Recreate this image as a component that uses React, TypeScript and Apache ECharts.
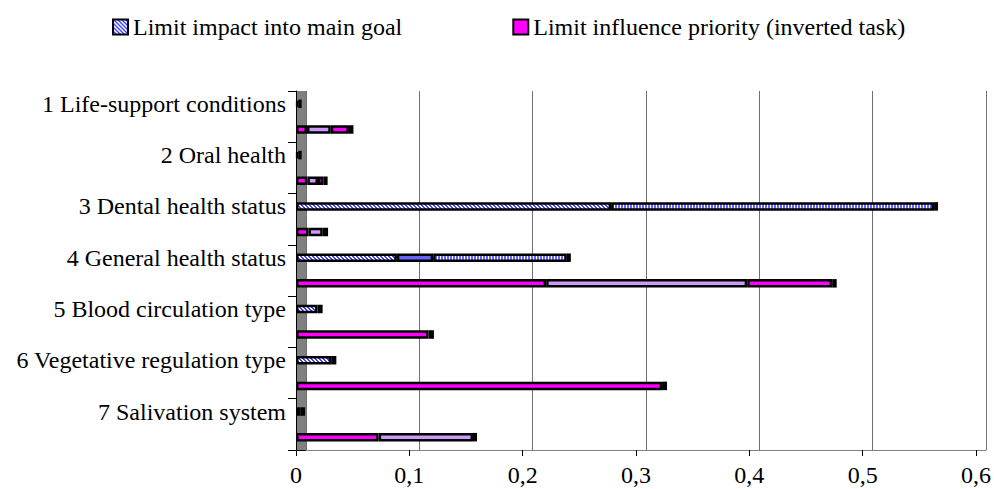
import React, { useEffect, useRef } from "react";
import * as echarts from "echarts";

// ---- data ----
const categories = [
  "1 Life-support conditions",
  "2 Oral health",
  "3 Dental health status",
  "4 General health status",
  "5 Blood circulation type",
  "6 Vegetative regulation type",
  "7 Salivation system",
];
const legendNames = ["Limit impact into main goal", "Limit influence priority (inverted task)"];
const xTickLabels = ["0", "0,1", "0,2", "0,3", "0,4", "0,5", "0,6"];

// upper bar of each pair: "Limit impact into main goal" (segments)
const impactHatched = [0.002, 0.002, 0.278, 0.089, 0.019, 0.031, 0.004];
const impactSolid = [0, 0, 0, 0.032, 0, 0, 0];
const impactStriped = [0, 0, 0.285, 0.118, 0, 0, 0];
const impactEnd = [0.003, 0.003, 0.0035, 0.0035, 0.0045, 0.0046, 0.004];

// lower bar of each pair: "Limit influence priority (inverted task)" (segments)
const priorityMain = [0.0097, 0.01, 0.011, 0.2207, 0.117, 0.323, 0.0729];
const prioritySecond = [0.021, 0.0094, 0.0126, 0.1774, 0, 0, 0.0833];
const priorityThird = [0.016, 0.005, 0, 0.075, 0, 0, 0];
const priorityEnd = [0.004, 0.0035, 0.0047, 0.004, 0.0047, 0.0044, 0.0035];

// rows: each category followed by its priority row
const rows: string[] = [];
categories.forEach((c) => {
  rows.push(c);
  rows.push(c + " (priority)");
});

function toRows(values: number[], upper: boolean) {
  const out: (number | string)[] = [];
  values.forEach((v) => {
    const val = v > 0 ? v : "-";
    if (upper) {
      out.push(val);
      out.push("-");
    } else {
      out.push("-");
      out.push(val);
    }
  });
  return out;
}

function makePattern(w: number, h: number, paint: (x: number, y: number) => string) {
  const c = document.createElement("canvas");
  c.width = w;
  c.height = h;
  const ctx = c.getContext("2d")!;
  for (let y = 0; y < h; y++) {
    for (let x = 0; x < w; x++) {
      ctx.fillStyle = paint(x, y);
      ctx.fillRect(x, y, 1, 1);
    }
  }
  return { image: c.toDataURL(), repeat: "repeat", imageWidth: w, imageHeight: h };
}

const FONT = "'Liberation Serif', 'Times New Roman', serif";
const GRID_LEFT = 296;
const GRID_TOP = 91;
const GRID_W = 680;
const GRID_H = 359;
const DEPTH = 10;

export default function App() {
  const ref = useRef<HTMLDivElement>(null);
  useEffect(() => {
    const chart = echarts.init(ref.current!, null, { renderer: "svg" });

    const hatch = makePattern(4, 4, (x, y) => ((x - y + 8) % 4 < 2 ? "#4040ff" : "#ffffff"));
    const stripes = makePattern(3, 4, (x) => (x % 3 < 2 ? "#6666ff" : "#ffffff"));

    const specs: [string, number[], boolean, any][] = [
      [legendNames[0], impactHatched, true, hatch],
      ["impact-solid", impactSolid, true, "#6666ff"],
      ["impact-striped", impactStriped, true, stripes],
      ["impact-end", impactEnd, true, "#1a1a4d"],
      [legendNames[1], priorityMain, false, "#ff00ff"],
      ["priority-second", prioritySecond, false, "#cc99ff"],
      ["priority-third", priorityThird, false, "#ff00ff"],
      ["priority-end", priorityEnd, false, "#3d1a3d"],
    ];

    const series = specs.map(([name, vals, upper, fill]) => ({
      name,
      type: "bar",
      stack: "total",
      xAxisIndex: 0,
      yAxisIndex: 0,
      barWidth: 8.5,
      silent: true,
      data: toRows(vals, upper),
      itemStyle: { color: fill, borderColor: "#000000", borderWidth: 2.5 },
      z: 5,
    }));

    chart.setOption({
      animation: false,
      textStyle: { fontFamily: FONT },
      legend: {
        data: legendNames,
        left: 112,
        top: 15,
        padding: 0,
        itemGap: 110,
        itemWidth: 15,
        itemHeight: 15,
        icon: "rect",
        selectedMode: false,
        textStyle: { fontFamily: FONT, fontSize: 24, color: "#000" },
      },
      grid: [
        { left: GRID_LEFT, top: GRID_TOP, width: GRID_W, height: GRID_H },
        { left: GRID_LEFT + DEPTH, top: GRID_TOP, width: GRID_W, height: GRID_H },
      ],
      xAxis: [
        {
          type: "value",
          gridIndex: 0,
          min: 0,
          max: 0.6,
          interval: 0.1,
          axisLine: { show: true, lineStyle: { color: "#000", width: 1 } },
          axisTick: { show: true, length: 6, lineStyle: { color: "#000" } },
          splitLine: { show: false },
          axisLabel: {
            fontFamily: FONT,
            fontSize: 24,
            color: "#000",
            margin: 13,
            formatter: (_v: number, i: number) => xTickLabels[i] ?? "",
          },
        },
        {
          type: "value",
          gridIndex: 1,
          position: "top",
          min: 0,
          max: 0.6,
          interval: 0.1,
          axisLine: { show: true, lineStyle: { color: "#808080", width: 1 } },
          axisTick: { show: false },
          axisLabel: { show: false },
          splitLine: { show: true, lineStyle: { color: "#707070", width: 1 } },
        },
      ],
      yAxis: [
        {
          type: "category",
          gridIndex: 0,
          inverse: true,
          data: rows,
          axisLine: { show: true, lineStyle: { color: "#000", width: 1 } },
          axisTick: {
            show: true,
            length: 8,
            interval: (i: number) => i % 2 === 0,
            lineStyle: { color: "#000" },
          },
          axisLabel: {
            interval: 0,
            fontFamily: FONT,
            fontSize: 24,
            color: "#000",
            margin: 10,
            formatter: (v: string, i: number) => (i % 2 === 0 ? v : ""),
          },
          splitLine: { show: false },
        },
        {
          type: "value",
          gridIndex: 1,
          show: false,
          axisLine: { show: false },
          splitLine: { show: false },
        },
      ],
      graphic: [
        {
          type: "rect",
          z: -1,
          silent: true,
          shape: { x: GRID_LEFT, y: GRID_TOP, width: DEPTH, height: GRID_H },
          style: { fill: "#808080" },
        },
      ],
      series,
    });
    return () => chart.dispose();
  }, []);
  return (
    <div
      ref={ref}
      style={{ position: "absolute", left: 0, top: 0, width: 994, height: 489 }}
    />
  );
}
